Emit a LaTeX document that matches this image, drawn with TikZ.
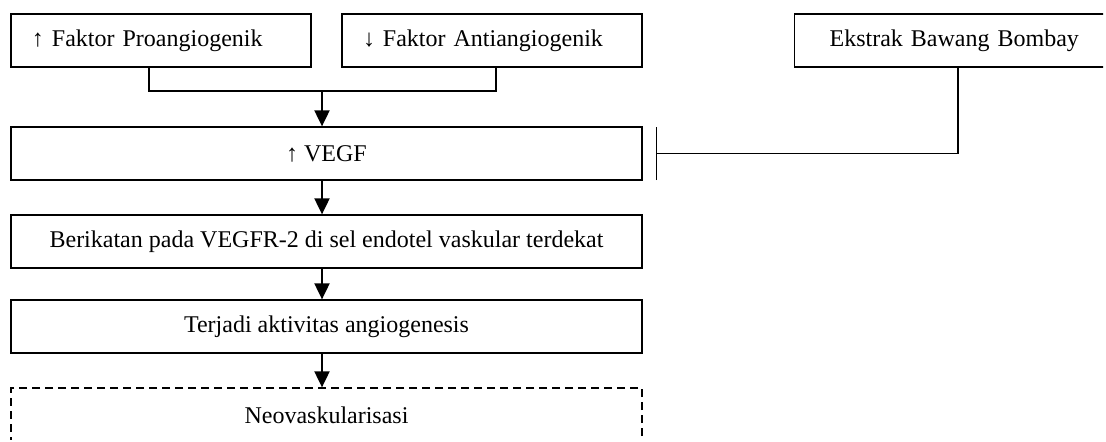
\documentclass[tikz,border=0pt]{standalone}
\usepackage{fontspec}
\setmainfont{Liberation Serif}
\usetikzlibrary{arrows.meta, calc}

\begin{document}
\begin{tikzpicture}[x=0.5pt, y=0.5pt,
	box/.style={draw, line width=0.65pt, minimum height=26.5pt, inner sep=0pt, font=\fontsize{12}{14}\selectfont},
	topbox/.style={box, align=left, text width=129pt, inner xsep=10.5pt},
	line/.style={line width=0.65pt},
	arr/.style={line width=1pt, -{Triangle[length=8pt, width=7.5pt]}},
	inhibit/.style={line width=0.65pt, -{Bar[width=26.5pt]}}]
	\useasboundingbox (0,0) rectangle (1106,-441);
	\clip (0,0) rectangle (1103,-439);
	\path (161,-40.5) node [topbox] (pro) {↑ Faktor Proangiogenik};
	\path (492,-40.5) node [topbox] (anti) {↓ Faktor Antiangiogenik};
	\path (794,-40.5) node [topbox, anchor=west, text width=180pt, inner xsep=17.5pt] (bombay) {Ekstrak Bawang Bombay};
	\path (326.5,-153.5) node [box, minimum width=315.5pt] (vegf) {↑ VEGF};
	\path (326.5,-241.5) node [box, minimum width=315.5pt] (bind) {Berikatan pada VEGFR-2 di sel endotel vaskular terdekat};
	\path (326.5,-326.5) node [box, minimum width=315.5pt] (act) {Terjadi aktivitas angiogenesis};
	\path (326.5,-415) node [box, dashed, dash pattern=on 4pt off 2.5pt, minimum width=315.5pt, minimum height=27pt] (neo) {Neovaskularisasi};
	\coordinate (join) at (322,-91);
	\draw [line] ($(pro.south)+(-12,0)$) |- (join);
	\draw [line] ($(anti.south)+(4,0)$) |- (join);
	\draw [arr] (join) -- (join |- vegf.north);
	\draw [arr] (join |- vegf.south) -- (join |- bind.north);
	\draw [arr] (join |- bind.south) -- (join |- act.north);
	\draw [arr] (join |- act.south) -- (join |- neo.north);
	\coordinate (stop) at ($(vegf.east)+(13,0)$);
	\draw [inhibit] (bombay.south -| 958,0) |- (stop);
\end{tikzpicture}
\end{document}
